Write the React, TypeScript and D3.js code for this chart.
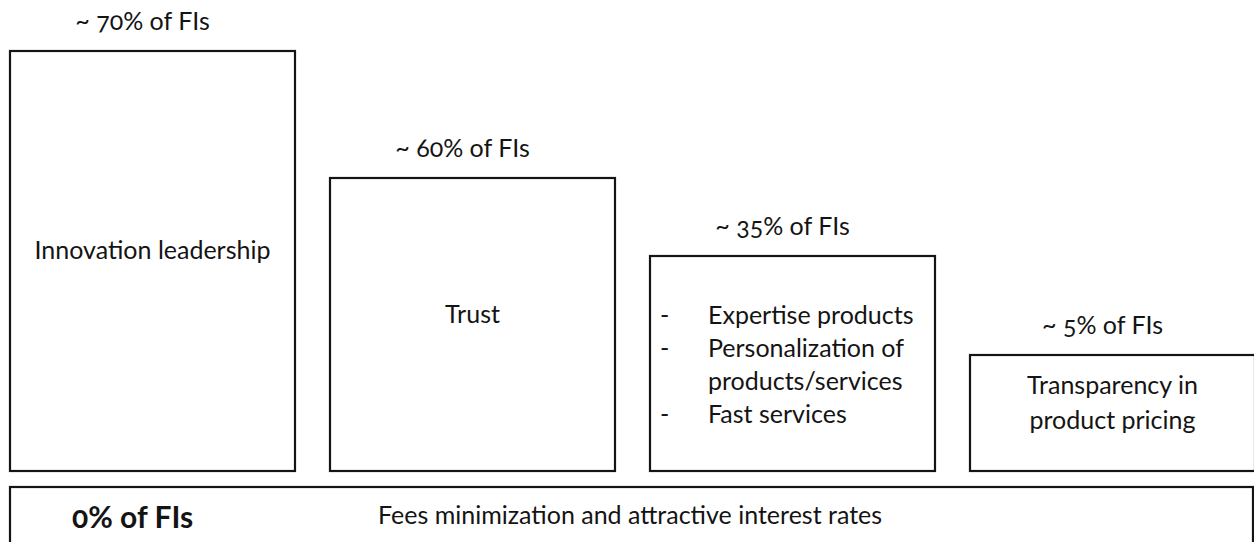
import React from 'react';
import * as d3 from 'd3';

// share of FIs naming each factor
const factors = ['Innovation leadership', 'Trust', 'Expertise', 'Transparency'];
const shares = [70, 60, 35, 5];
const shareLabels = ['~ 70% of FIs', '~ 60% of FIs', '~ 35% of FIs', '~ 5% of FIs'];
const boxLines = [
  ['Innovation leadership'],
  ['Trust'],
  ['Expertise products', 'Personalization of', 'products/services', 'Fast services'],
  ['Transparency in', 'product pricing'],
];
const bulletLines = [[], [], [0, 1, 3], []];
const baseShareLabel = '0% of FIs';
const baseText = 'Fees minimization and attractive interest rates';

const W = 1254;
const H = 542;
const FONT = 'Lato, "Open Sans", sans-serif';
const INK = '#141414';

const App: React.FC = () => {
  const x = d3.scaleBand<string>()
    .domain(factors)
    .range([10, 1255])
    .paddingInner(0.109375)
    .paddingOuter(0);

  // the infographic is not drawn to scale, so the value axis is piecewise
  const y = d3.scaleLinear()
    .domain([0, 5, 35, 60, 70])
    .range([471, 355, 256, 178, 51]);

  const baseTop = 487;

  return (
    <svg width={W} height={H} style={{ position: 'absolute', left: 0, top: 0, background: '#fff' }}
      fontFamily={FONT} fill={INK}>
      {factors.map((f, i) => {
        const x0 = x(f)!;
        const bw = x.bandwidth();
        const top = y(shares[i]);
        const bottom = y(0);
        const cx = x0 + bw / 2;
        const lines = boxLines[i];
        const hasBullets = bulletLines[i].length > 0;
        const lh = hasBullets ? 33 : 35;
        const mid = (top + bottom) / 2 - 2 + (hasBullets ? 12 : 0);
        const first = mid - ((lines.length - 1) * lh) / 2;
        return (
          <g key={f}>
            <rect x={x0} y={top} width={bw} height={bottom - top}
              fill="none" stroke={INK} strokeWidth={2.2} />
            <text x={cx - 10} y={top - 21} textAnchor="middle" fontSize={25}
              style={{ fontVariantNumeric: 'oldstyle-nums' }}>
              {shareLabels[i]}
            </text>
            {lines.map((line, j) => (
              hasBullets ? (
                <g key={j}>
                  {bulletLines[i].includes(j) && (
                    <text x={x0 + 10} y={first + j * lh} fontSize={25}>-</text>
                  )}
                  <text x={x0 + 58} y={first + j * lh} fontSize={25}>{line}</text>
                </g>
              ) : (
                <text key={j} x={cx} y={first + j * lh} textAnchor="middle" fontSize={25}>{line}</text>
              )
            ))}
          </g>
        );
      })}
      <rect x={10} y={baseTop} width={1243} height={90}
        fill="none" stroke={INK} strokeWidth={2.2} />
      <text x={72} y={528} fontSize={30} fontWeight="bold"
        style={{ fontVariantNumeric: 'oldstyle-nums' }}>{baseShareLabel}</text>
      <text x={378} y={524} fontSize={25}>{baseText}</text>
    </svg>
  );
};

export default App;
